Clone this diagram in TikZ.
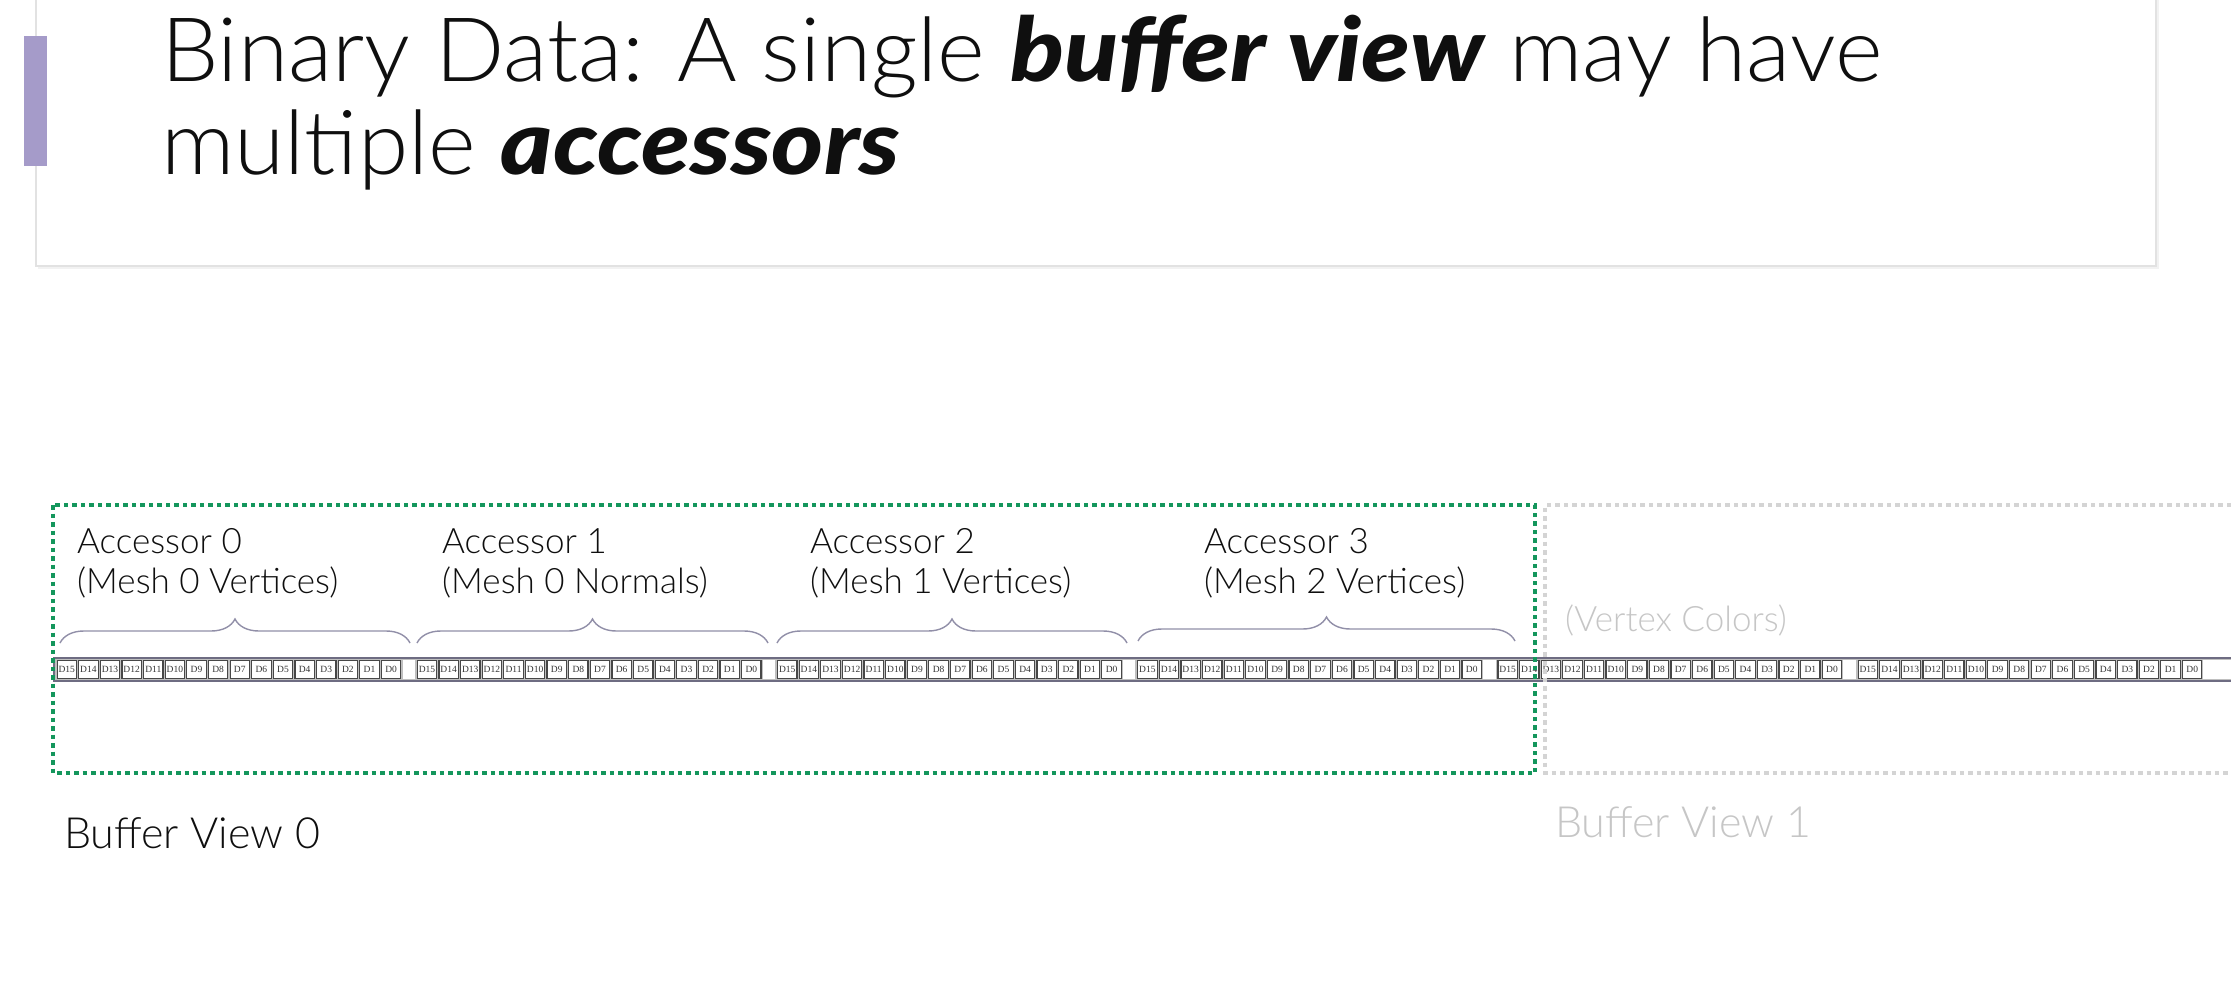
\documentclass[tikz,border=0pt]{standalone}
\usepackage{fontspec}
\setmainfont{Lato Light}[BoldFont={Lato Bold},ItalicFont={Lato Light Italic},BoldItalicFont={Lato Black Italic}]
\newfontfamily\titlereg{Lato Light}[FakeStretch=1.025]
\newfontfamily\titlebi{Lato Black Italic}[FakeStretch=1.12]
\newfontfamily\cellfont{Liberation Serif}
\usetikzlibrary{decorations.pathreplacing}
\definecolor{bvgreen}{RGB}{20,150,92}
\definecolor{bvgray}{RGB}{212,212,212}
\definecolor{txtgray}{RGB}{198,198,198}
\definecolor{barpurple}{RGB}{165,155,201}
\definecolor{stripline}{RGB}{110,108,130}
\definecolor{bracecol}{RGB}{145,143,168}
\definecolor{cardline}{RGB}{226,226,226}
\definecolor{titlecol}{RGB}{15,15,15}
\begin{document}
\begin{tikzpicture}[x=1pt,y=-1pt,
  titletext/.style={anchor=base west,inner sep=0pt,text=titlecol,font=\fontsize{89}{92}\titlereg},
  acctext/.style={anchor=base west,inner sep=0pt,text=titlecol,font=\fontsize{35}{40}\selectfont},
  bvtext/.style={anchor=base west,inner sep=0pt,font=\fontsize{43}{46}\selectfont},
  cell/.style={draw=black!72,fill=white,line width=1.2pt,minimum width=19.4pt,minimum height=17.5pt,inner sep=0pt,font=\cellfont\fontsize{9.5}{10}\selectfont,text=black!80},
  accbrace/.style={draw=bracecol,line width=1.4pt,decorate,decoration={brace,amplitude=24pt,aspect=0.5}},
  viewgreen/.style={draw=bvgreen,line width=4.5pt,dash pattern=on 4.5pt off 4pt},
  viewgray/.style={draw=bvgray,line width=4.5pt,dash pattern=on 4.5pt off 4pt}]
\useasboundingbox (0,0) rectangle (2231,985);
\fill[white] (0,0) rectangle (2231,985);
% title card
\fill[black!5] (38,-5) rectangle (2159,269);
\draw[cardline,fill=white,line width=1.2pt] (36,-5) rectangle (2156,266);
\fill[barpurple] (24,36) rectangle (47,166);
\node[titletext] (title1) at (161,81) {Binary Data: A single {\titlebi buffer view} may have};
\node[titletext] (title2) at (161,174) {multiple {\titlebi accessors}};
% byte strip
\fill[black!25] (53,658) rectangle (2231,681);
\foreach \g in {0,...,5}{
  \foreach \i in {0,...,15}{
    \pgfmathsetmacro{\cx}{56+360.2*\g+21.625*\i+10.8}
    \pgfmathtruncatemacro{\n}{15-\i}
    \node[cell] (c\g-\i) at (\cx,669.5) {D\n};
  }
}
\foreach \g in {0,...,4}{
  \pgfmathsetmacro{\gx}{56+360.2*\g+346.5}
  \fill[white] (\gx,660) rectangle ({\gx+12.5},679);
}
\fill[white] (2203,660) rectangle (2231,679);
\draw[stripline,line width=2.4pt] (53,658) -- (2231,658);
\draw[stripline,line width=2.4pt] (53,681) -- (2231,681);
\draw[stripline,line width=2pt] (54,658) -- (54,681);
% braces
\draw[accbrace] (60,643) -- (410,643);
\draw[accbrace] (417,643) -- (768,643);
\draw[accbrace] (777,643) -- (1127,643);
\draw[accbrace] (1138,641) -- (1515,641);
% accessor labels
\node[acctext] (a0l1) at (77,553) {Accessor 0};
\node[acctext] (a0l2) at (77,593) {(Mesh 0 Vertices)};
\node[acctext] (a1l1) at (442,553) {Accessor 1};
\node[acctext] (a1l2) at (442,593) {(Mesh 0 Normals)};
\node[acctext] (a2l1) at (810,553) {Accessor 2};
\node[acctext] (a2l2) at (810,593) {(Mesh 1 Vertices)};
\node[acctext] (a3l1) at (1204,553) {Accessor 3};
\node[acctext] (a3l2) at (1204,593) {(Mesh 2 Vertices)};
\node[acctext,text=txtgray] (vcol) at (1565,631) {(Vertex Colors)};
% buffer views
\draw[viewgray] (2231,505) -- (1545,505) -- (1545,773) -- (2231,773);
\draw[viewgreen] (53,505) rectangle (1535,773);
\node[bvtext,text=titlecol] (bv0) at (64,848) {Buffer View 0};
\node[bvtext,text=txtgray] (bv1) at (1555,837) {Buffer View 1};
\end{tikzpicture}
\end{document}
